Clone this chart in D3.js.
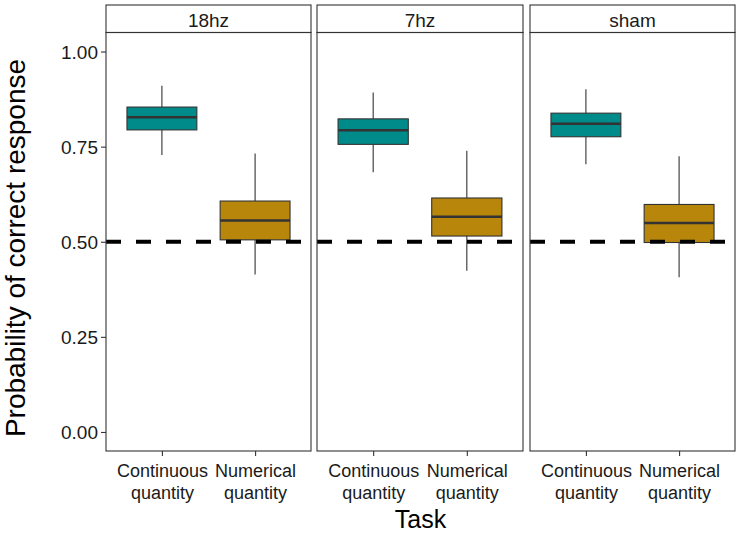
<!DOCTYPE html>
<html>
<head>
<meta charset="utf-8">
<script src="https://cdn.jsdelivr.net/npm/d3@7"></script>
<style>
  body { margin: 0; background: #fff; }
  svg { display: block; font-family: "Liberation Sans", Arial, sans-serif; }
</style>
</head>
<body>
<div id="chart"></div>
<script>
// ----- Data -----
const panels = ["18hz", "7hz", "sham"];
const tasks = ["Continuous quantity", "Numerical quantity"];
const taskColors = ["#008B8B", "#B8860B"];

// [whiskerLow, q1, median, q3, whiskerHigh] per task, per panel
const stats18hz = [[0.728, 0.794, 0.827, 0.854, 0.910], [0.414, 0.505, 0.556, 0.607, 0.732]];
const stats7hz  = [[0.683, 0.756, 0.793, 0.823, 0.892], [0.424, 0.515, 0.566, 0.615, 0.739]];
const statsSham = [[0.704, 0.776, 0.810, 0.838, 0.901], [0.407, 0.498, 0.549, 0.598, 0.725]];
const panelStats = [stats18hz, stats7hz, statsSham];

const yTicks = [0, 0.25, 0.5, 0.75, 1.0];
const chanceLevel = 0.5;

// ----- Layout -----
const W = 747, H = 538;
const panelX = [[106, 311], [317, 523], [530, 735]];
const STRIP_TOP = 5, PANEL_TOP = 32.5, PANEL_BOTTOM = 451;
const INK = "#333333";
const FONT = "Liberation Sans, Arial, sans-serif";

const svg = d3.select("#chart").append("svg")
  .attr("width", W).attr("height", H);

const y = d3.scaleLinear().domain([-0.05, 1.05]).range([PANEL_BOTTOM, PANEL_TOP]);

panels.forEach((name, p) => {
  const [x0, x1] = panelX[p];
  const x = d3.scalePoint().domain(tasks).range([x0, x1]).padding(0.6);
  const boxW = x.step() * 0.75;
  const g = svg.append("g");

  // strip
  g.append("rect")
    .attr("x", x0).attr("y", STRIP_TOP)
    .attr("width", x1 - x0).attr("height", PANEL_TOP - STRIP_TOP)
    .attr("fill", "#fff").attr("stroke", INK).attr("stroke-width", 1.1);
  g.append("text")
    .attr("x", (x0 + x1) / 2).attr("y", 26.5)
    .attr("text-anchor", "middle").attr("font-size", 19).attr("fill", "#1a1a1a")
    .text(name);

  // boxes
  panelStats[p].forEach((s, i) => {
    const cx = x(tasks[i]);
    const [lo, q1, med, q3, hi] = s;
    g.append("line")
      .attr("x1", cx).attr("x2", cx).attr("y1", y(hi)).attr("y2", y(q3))
      .attr("stroke", INK).attr("stroke-width", 1.1);
    g.append("line")
      .attr("x1", cx).attr("x2", cx).attr("y1", y(q1)).attr("y2", y(lo))
      .attr("stroke", INK).attr("stroke-width", 1.1);
    g.append("rect")
      .attr("x", cx - boxW / 2).attr("y", y(q3))
      .attr("width", boxW).attr("height", y(q1) - y(q3))
      .attr("fill", taskColors[i]).attr("stroke", INK).attr("stroke-width", 1.1);
    g.append("line")
      .attr("x1", cx - boxW / 2).attr("x2", cx + boxW / 2)
      .attr("y1", y(med)).attr("y2", y(med))
      .attr("stroke", INK).attr("stroke-width", 2.5);
  });

  // chance line
  g.append("line")
    .attr("x1", x0).attr("x2", x1)
    .attr("y1", y(chanceLevel)).attr("y2", y(chanceLevel))
    .attr("stroke", "#000").attr("stroke-width", 4)
    .attr("stroke-dasharray", "15,15");

  // panel border
  g.append("rect")
    .attr("x", x0).attr("y", PANEL_TOP)
    .attr("width", x1 - x0).attr("height", PANEL_BOTTOM - PANEL_TOP)
    .attr("fill", "none").attr("stroke", INK).attr("stroke-width", 1.1);

  // x axis
  const xAxis = g.append("g")
    .attr("transform", `translate(0,${PANEL_BOTTOM})`)
    .call(d3.axisBottom(x).tickSize(5).tickSizeOuter(0).tickFormat(""));
  xAxis.select(".domain").remove();
  xAxis.selectAll(".tick line").attr("stroke", INK).attr("stroke-width", 1.1);
  xAxis.selectAll(".tick").append("text")
    .attr("text-anchor", "middle").attr("font-size", 18).attr("fill", "#1a1a1a")
    .attr("font-family", FONT)
    .selectAll("tspan")
    .data(d => d.split(" "))
    .join("tspan")
    .attr("x", 0)
    .attr("y", (d, i) => 26 + i * 22)
    .text(d => d);

  // y axis on first panel only
  if (p === 0) {
    const yAxis = g.append("g")
      .attr("transform", `translate(${x0},0)`)
      .call(d3.axisLeft(y).tickValues(yTicks).tickSize(5).tickFormat(d3.format(".2f")));
    yAxis.select(".domain").remove();
    yAxis.selectAll(".tick line").attr("stroke", INK).attr("stroke-width", 1.1);
    yAxis.selectAll(".tick text")
      .attr("font-size", 19).attr("fill", "#1a1a1a")
      .attr("font-family", FONT)
      .attr("x", -8).attr("dy", "0.35em");
  }
});

// axis titles
svg.append("text")
  .attr("x", (panelX[0][0] + panelX[2][1]) / 2).attr("y", 528)
  .attr("text-anchor", "middle").attr("font-size", 25).attr("fill", "#000")
  .text("Task");
svg.append("text")
  .attr("transform", `translate(25,248) rotate(-90)`)
  .attr("text-anchor", "middle").attr("font-size", 28).attr("fill", "#000")
  .text("Probability of correct response");
</script>
</body>
</html>
